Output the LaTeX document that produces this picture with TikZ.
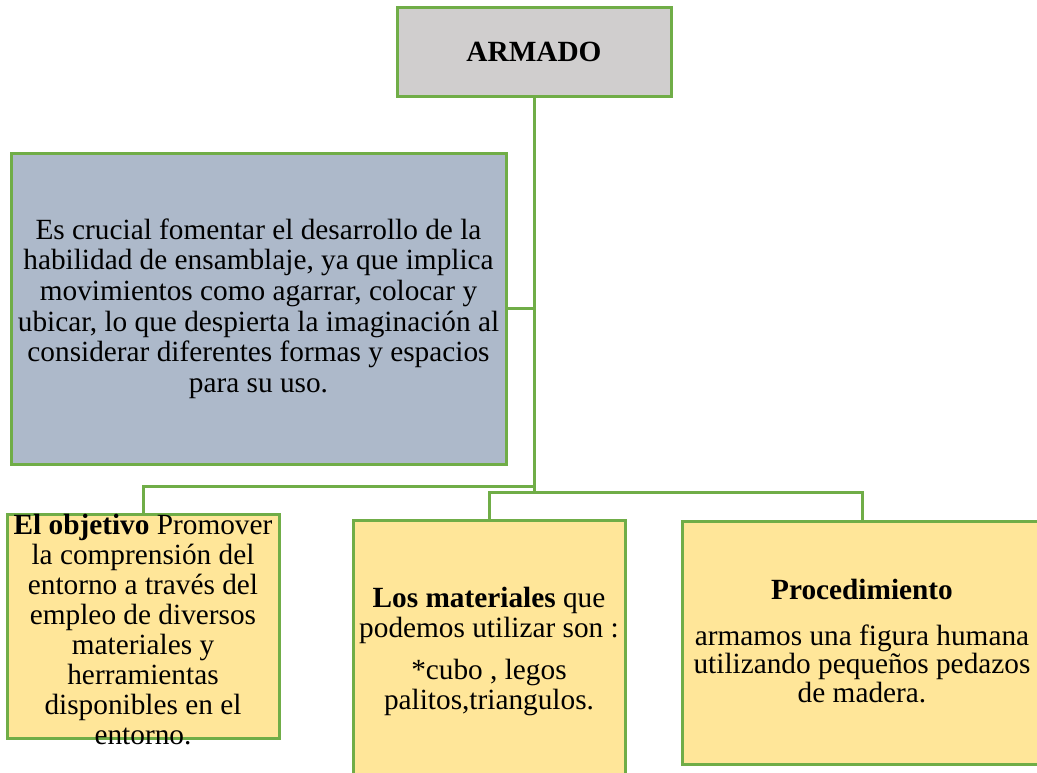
\documentclass[tikz,border=0pt]{standalone}
\usepackage{fontspec}
\setmainfont{Liberation Serif}
\usetikzlibrary{positioning}
\definecolor{verde}{HTML}{70AD47}
\definecolor{gris}{HTML}{D0CECE}
\definecolor{azul}{HTML}{ADB9CA}
\definecolor{amarillo}{HTML}{FFE699}

\begin{document}
\begin{tikzpicture}[x=1pt,y=-1pt,
    every node/.style={font=\fontsize{29.3}{30}\selectfont},
    caja/.style={draw=verde, line width=3pt, inner sep=0pt},
    texto/.style={align=center, inner sep=0pt},
    linea/.style={draw=verde, line width=3pt}]
      \useasboundingbox (0,0) rectangle (1037,772);
      % cajas
      \node[caja, fill=gris, minimum width=274pt, minimum height=89pt] (armado) at (534,51.5) {\textbf{ARMADO}};
      \node[caja, fill=azul, minimum width=495pt, minimum height=311pt, align=center,
        font=\fontsize{29.3}{30.6}\selectfont] (ensamblaje) at (258.5,308.5)
        {Es crucial fomentar el desarrollo de la\\ habilidad de ensamblaje, ya que implica\\ movimientos como agarrar, colocar y\\ ubicar, lo que despierta la imaginación al\\ considerar diferentes formas y espacios\\ para su uso.};
      \node[caja, fill=amarillo, minimum width=272pt, minimum height=224pt] (objetivo) at (143,626) {};
      \node[caja, fill=amarillo, minimum width=272pt, minimum height=300pt] (materiales) at (489,670) {};
      \node[caja, fill=amarillo, minimum width=360pt, minimum height=243pt] (proced) at (862,642.5) {};
      % textos
      \node[texto] (objetivotxt) at (143,630)
        {\textbf{El objetivo} Promover\\ la comprensión del\\ entorno a través del\\ empleo de diversos\\ materiales y\\ herramientas\\ disponibles en el\\ entorno.};
      \node[texto] (materialestxt) at (489,651)
        {\textbf{Los materiales} que\\ podemos utilizar son :\\[12pt] *cubo , legos\\ palitos,triangulos.};
      \node[texto, font=\fontsize{29.3}{28.5}\selectfont] (procedtxt) at (862,641)
        {\textbf{Procedimiento}\\[17pt] armamos una figura humana\\ utilizando pequeños pedazos\\ de madera.};
      % conectores
      \coordinate (nudo) at (534,492);
      \coordinate (izq) at (534,486);
      \draw[linea] (armado.south) -- (nudo);
      \draw[linea] (ensamblaje.east) -- (ensamblaje.east -| armado.south);
      \draw[linea] (izq) -| (objetivo.north);
      \draw[linea] (materiales.north) |- (proced.north |- nudo) -- (proced.north);
    \end{tikzpicture}
\end{document}
